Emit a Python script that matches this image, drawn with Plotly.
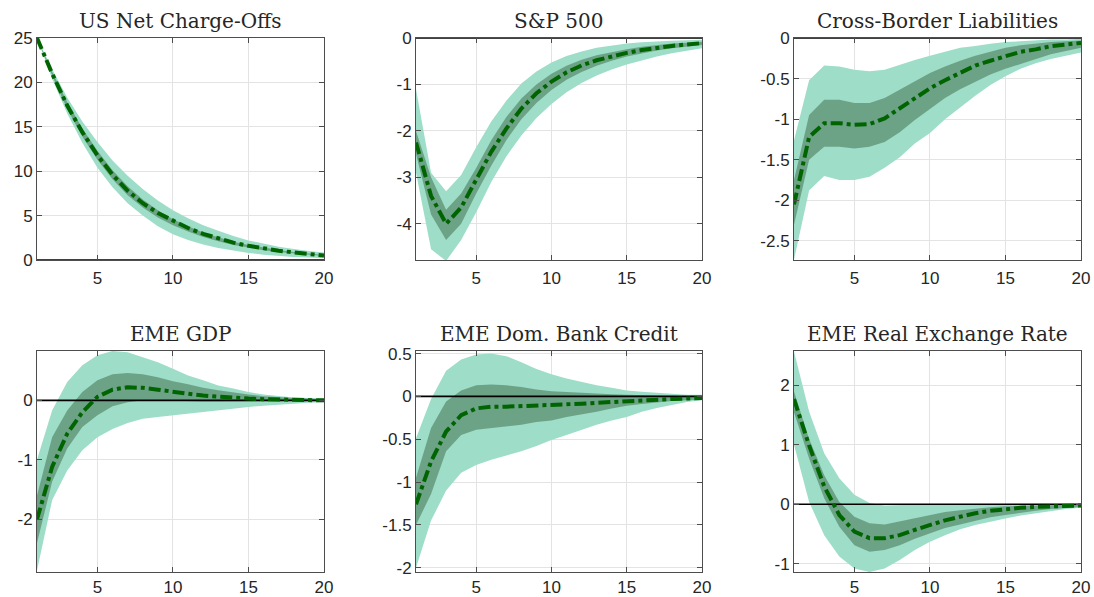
import plotly.graph_objects as go
from plotly.subplots import make_subplots

horizon = list(range(1, 21))
titles = ["US Net Charge-Offs", "S&P 500", "Cross-Border Liabilities",
          "EME GDP", "EME Dom. Bank Credit", "EME Real Exchange Rate"]

# US Net Charge-Offs
nco_med = [25, 21.0, 17.4, 14.4, 11.8, 9.6, 7.8, 6.4, 5.3, 4.4, 3.6, 2.95, 2.4, 1.95, 1.6, 1.3, 1.05, 0.85, 0.68, 0.5]
nco_lo90 = [25, 20.4, 16.5, 13.2, 10.4, 8.2, 6.4, 5.0, 3.8, 2.9, 2.25, 1.75, 1.35, 1.05, 0.8, 0.6, 0.45, 0.35, 0.28, 0.2]
nco_hi90 = [25, 21.5, 18.3, 15.6, 13.3, 11.2, 9.5, 8.0, 6.7, 5.6, 4.7, 3.9, 3.3, 2.7, 2.2, 1.85, 1.5, 1.25, 1.0, 0.85]
nco_lo68 = [25, 20.8, 17.0, 13.9, 11.3, 9.1, 7.3, 5.9, 4.8, 3.9, 3.2, 2.6, 2.1, 1.7, 1.4, 1.1, 0.9, 0.73, 0.58, 0.45]
nco_hi68 = [25, 21.2, 17.8, 14.8, 12.3, 10.1, 8.3, 6.8, 5.6, 4.6, 3.8, 3.1, 2.55, 2.05, 1.7, 1.4, 1.12, 0.9, 0.72, 0.55]

# S&P 500
sp_med = [-2.25, -3.4, -4.0, -3.65, -3.05, -2.45, -1.95, -1.52, -1.19, -0.94, -0.74, -0.59, -0.48, -0.39, -0.32, -0.26, -0.21, -0.17, -0.14, -0.11]
sp_lo90 = [-2.9, -4.55, -4.8, -4.35, -3.75, -3.1, -2.55, -2.1, -1.72, -1.42, -1.17, -0.97, -0.81, -0.68, -0.57, -0.48, -0.40, -0.33, -0.27, -0.22]
sp_hi90 = [-1.1, -2.9, -3.3, -2.95, -2.35, -1.8, -1.35, -0.98, -0.72, -0.53, -0.39, -0.29, -0.21, -0.16, -0.12, -0.09, -0.07, -0.06, -0.05, -0.04]
sp_lo68 = [-2.5, -3.8, -4.35, -4.0, -3.35, -2.75, -2.2, -1.75, -1.4, -1.12, -0.9, -0.73, -0.6, -0.49, -0.4, -0.33, -0.27, -0.22, -0.18, -0.15]
sp_hi68 = [-2.0, -3.0, -3.7, -3.35, -2.8, -2.2, -1.7, -1.3, -1.0, -0.77, -0.6, -0.47, -0.37, -0.3, -0.24, -0.19, -0.15, -0.12, -0.1, -0.08]

# Cross-Border Liabilities
cb_med = [-2.05, -1.22, -1.05, -1.05, -1.07, -1.06, -0.99, -0.87, -0.74, -0.62, -0.52, -0.43, -0.34, -0.28, -0.22, -0.17, -0.14, -0.10, -0.08, -0.06]
cb_lo90 = [-2.73, -1.88, -1.7, -1.75, -1.75, -1.71, -1.6, -1.47, -1.3, -1.17, -1.0, -0.85, -0.71, -0.58, -0.47, -0.38, -0.31, -0.26, -0.22, -0.18]
cb_hi90 = [-1.26, -0.52, -0.34, -0.35, -0.39, -0.41, -0.39, -0.33, -0.27, -0.22, -0.17, -0.12, -0.10, -0.07, -0.05, -0.04, -0.03, -0.02, -0.02, -0.01]
cb_lo68 = [-2.3, -1.5, -1.34, -1.34, -1.36, -1.34, -1.28, -1.16, -1.01, -0.87, -0.74, -0.63, -0.54, -0.45, -0.38, -0.32, -0.26, -0.2, -0.16, -0.12]
cb_hi68 = [-1.75, -0.95, -0.76, -0.76, -0.8, -0.8, -0.74, -0.64, -0.54, -0.43, -0.35, -0.28, -0.22, -0.17, -0.12, -0.09, -0.07, -0.05, -0.04, -0.03]

# EME GDP
gdp_med = [-2.0, -1.12, -0.56, -0.2, 0.06, 0.18, 0.22, 0.21, 0.18, 0.14, 0.11, 0.08, 0.06, 0.04, 0.03, 0.02, 0.015, 0.01, 0.005, 0.0]
gdp_lo90 = [-2.86, -1.68, -1.18, -0.84, -0.62, -0.48, -0.38, -0.31, -0.28, -0.25, -0.22, -0.2, -0.17, -0.14, -0.11, -0.09, -0.07, -0.05, -0.04, -0.03]
gdp_hi90 = [-1.0, -0.17, 0.31, 0.59, 0.76, 0.83, 0.81, 0.73, 0.64, 0.53, 0.42, 0.34, 0.25, 0.2, 0.14, 0.1, 0.07, 0.05, 0.04, 0.03]
gdp_lo68 = [-2.4, -1.37, -0.81, -0.45, -0.25, -0.1, -0.03, 0.0, 0.0, -0.01, -0.02, -0.02, -0.02, -0.02, -0.02, -0.02, -0.02, -0.015, -0.01, -0.01]
gdp_hi68 = [-1.6, -0.62, -0.17, 0.14, 0.34, 0.44, 0.46, 0.44, 0.39, 0.32, 0.27, 0.21, 0.17, 0.13, 0.1, 0.07, 0.05, 0.04, 0.03, 0.02]

# EME Dom. Bank Credit
bc_med = [-1.26, -0.76, -0.41, -0.22, -0.14, -0.12, -0.12, -0.115, -0.11, -0.1, -0.095, -0.085, -0.075, -0.065, -0.05, -0.045, -0.035, -0.03, -0.025, -0.02]
bc_lo90 = [-2.0, -1.45, -1.1, -0.89, -0.8, -0.74, -0.69, -0.64, -0.58, -0.51, -0.45, -0.39, -0.33, -0.28, -0.24, -0.18, -0.135, -0.1, -0.065, -0.045]
bc_hi90 = [-0.49, -0.03, 0.3, 0.43, 0.49, 0.5, 0.47, 0.4, 0.32, 0.26, 0.21, 0.17, 0.13, 0.1, 0.07, 0.055, 0.04, 0.03, 0.02, 0.02]
bc_lo68 = [-1.5, -1.14, -0.64, -0.45, -0.39, -0.37, -0.35, -0.33, -0.3, -0.28, -0.24, -0.21, -0.18, -0.14, -0.11, -0.09, -0.07, -0.055, -0.045, -0.035]
bc_hi68 = [-0.95, -0.37, -0.06, 0.07, 0.13, 0.14, 0.13, 0.11, 0.08, 0.06, 0.05, 0.04, 0.03, 0.025, 0.02, 0.015, 0.01, 0.01, 0.005, 0.0]

# EME Real Exchange Rate
rer_med = [1.77, 0.99, 0.3, -0.18, -0.46, -0.57, -0.57, -0.52, -0.43, -0.35, -0.27, -0.21, -0.15, -0.11, -0.08, -0.06, -0.045, -0.035, -0.025, -0.02]
rer_lo90 = [1.0, 0.04, -0.52, -0.88, -1.08, -1.14, -1.08, -0.94, -0.77, -0.63, -0.52, -0.42, -0.35, -0.29, -0.24, -0.19, -0.15, -0.11, -0.08, -0.06]
rer_hi90 = [2.57, 1.56, 0.86, 0.44, 0.16, 0.02, -0.02, -0.01, -0.01, 0.0, 0.0, 0.0, 0.01, 0.01, 0.01, 0.01, 0.01, 0.01, 0.01, 0.01]
rer_lo68 = [1.55, 0.77, 0.1, -0.38, -0.69, -0.8, -0.77, -0.69, -0.58, -0.49, -0.4, -0.34, -0.28, -0.22, -0.18, -0.14, -0.11, -0.08, -0.06, -0.045]
rer_hi68 = [1.9, 1.1, 0.49, 0.04, -0.21, -0.32, -0.34, -0.29, -0.24, -0.18, -0.13, -0.1, -0.07, -0.05, -0.035, -0.025, -0.02, -0.015, -0.01, -0.01]

panels = [
    (nco_med, nco_lo90, nco_hi90, nco_lo68, nco_hi68, [0, 25], [0, 5, 10, 15, 20, 25]),
    (sp_med, sp_lo90, sp_hi90, sp_lo68, sp_hi68, [-4.78, 0], [-4, -3, -2, -1, 0]),
    (cb_med, cb_lo90, cb_hi90, cb_lo68, cb_hi68, [-2.735, 0], [-2.5, -2, -1.5, -1, -0.5, 0]),
    (gdp_med, gdp_lo90, gdp_hi90, gdp_lo68, gdp_hi68, [-2.886, 0.83], [-2, -1, 0]),
    (bc_med, bc_lo90, bc_hi90, bc_lo68, bc_hi68, [-2.05, 0.53], [-2, -1.5, -1, -0.5, 0, 0.5]),
    (rer_med, rer_lo90, rer_hi90, rer_lo68, rer_hi68, [-1.14, 2.58], [-1, 0, 1, 2]),
]

LIGHT = "rgb(158,221,200)"
DARK = "rgb(108,163,135)"
LINE = "rgb(0,100,0)"

W, H = 1094, 597
xdom = [(37 / W, 324 / W), (416 / W, 702 / W), (794 / W, 1081 / W)]
ydom = [(1 - 260 / H, 1 - 38 / H), (1 - 572 / H, 1 - 351 / H)]
standoff = [3, 0]

fig = make_subplots(rows=2, cols=3)

for i, (med, lo90, hi90, lo68, hi68, yr, yt) in enumerate(panels):
    r, c = i // 3 + 1, i % 3 + 1
    fig.add_trace(go.Scatter(x=horizon, y=lo90, mode="lines", line=dict(width=0, color=LIGHT),
                             showlegend=False, hoverinfo="skip"), row=r, col=c)
    fig.add_trace(go.Scatter(x=horizon, y=hi90, mode="lines", line=dict(width=0, color=LIGHT),
                             fill="tonexty", fillcolor=LIGHT, showlegend=False), row=r, col=c)
    fig.add_trace(go.Scatter(x=horizon, y=lo68, mode="lines", line=dict(width=0, color=DARK),
                             showlegend=False, hoverinfo="skip"), row=r, col=c)
    fig.add_trace(go.Scatter(x=horizon, y=hi68, mode="lines", line=dict(width=0, color=DARK),
                             fill="tonexty", fillcolor=DARK, showlegend=False), row=r, col=c)
    fig.add_trace(go.Scatter(x=[1, 20], y=[0, 0], mode="lines", line=dict(width=1.6, color="black"),
                             showlegend=False, hoverinfo="skip", cliponaxis=False), row=r, col=c)
    fig.add_trace(go.Scatter(x=horizon, y=med, mode="lines",
                             line=dict(width=4, color=LINE, dash="12px,4px,4px,4px"),
                             showlegend=False), row=r, col=c)
    ticktext = [("%g" % v) for v in yt]
    fig.update_yaxes(range=yr, tickvals=yt, ticktext=ticktext, domain=ydom[r - 1], row=r, col=c)
    fig.update_xaxes(range=[1, 20], tickvals=[5, 10, 15, 20], domain=xdom[c - 1],
                     ticklabelstandoff=standoff[r - 1], row=r, col=c)
    xc = (xdom[c - 1][0] + xdom[c - 1][1]) / 2
    fig.add_annotation(text=titles[i], xref="paper", yref="paper", x=xc, y=ydom[r - 1][1],
                       xanchor="center", yanchor="bottom", yshift=3, showarrow=False,
                       font=dict(family="DejaVu Serif", size=20, color="#262626"))

axis_style = dict(showline=True, linecolor="#4d4d4d", linewidth=1, mirror="allticks",
                  ticks="inside", ticklen=5, tickcolor="#4d4d4d", automargin=False,
                  showgrid=True, gridcolor="#e3e3e3", gridwidth=1, zeroline=False,
                  tickfont=dict(family="Liberation Sans, Arial, sans-serif", size=17, color="#262626"))
fig.update_xaxes(**axis_style)
fig.update_yaxes(**axis_style)

fig.update_layout(width=W, height=H, margin=dict(l=0, r=0, t=0, b=0, autoexpand=False),
                  paper_bgcolor="white", plot_bgcolor="white", showlegend=False)

fig.write_html("out.html")
